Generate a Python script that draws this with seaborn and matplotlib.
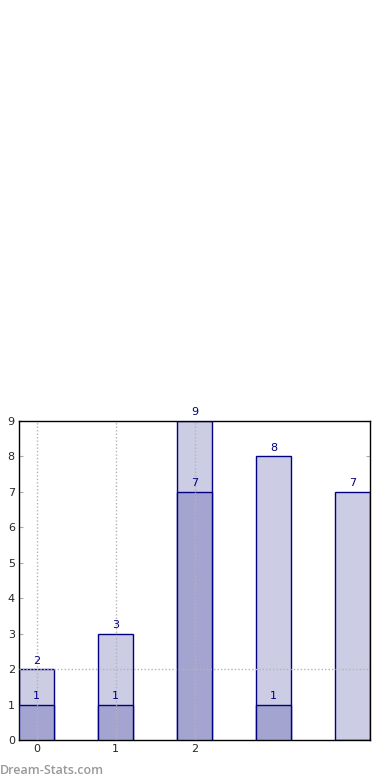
import pandas as pd
import matplotlib
matplotlib.use('Agg')
import matplotlib.pyplot as plt
import seaborn as sns

# chart data
categories = [0, 1, 2, 3, 4]
total_values = [2, 3, 9, 8, 7]
inner_values = [1, 1, 7, 1, 0]
xtick_labels = ['0', '1', '2']

light = '#ccccE4'
dark = '#a4a4d0'
edge = '#000080'

sns.set_style('white')
plt.rcParams['font.family'] = ['DejaVu Sans']

fig = plt.figure(figsize=(3.9, 7.8), dpi=100)
ax = fig.add_axes([19 / 390, 40 / 780, 351 / 390, 319 / 780])

df = pd.DataFrame({'cat': categories, 'total': total_values, 'inner': inner_values})

sns.barplot(data=df, x='cat', y='total', color=light, saturation=1, width=0.45,
            edgecolor=edge, linewidth=1, ax=ax, zorder=2)
sns.barplot(data=df[df['inner'] > 0], x='cat', y='inner', color=dark, saturation=1,
            width=0.45, edgecolor=edge, linewidth=1, ax=ax, zorder=3,
            order=categories)

# value labels
for i, v in enumerate(total_values):
    ax.text(i, v + 0.1, str(v), ha='center', va='bottom', color=edge, fontsize=8, zorder=5)
for i, v in enumerate(inner_values):
    if v > 0:
        ax.text(i, v + 0.1, str(v), ha='center', va='bottom', color=edge, fontsize=8, zorder=5)

# dotted guide lines
for x in [0, 1, 2]:
    ax.axvline(x, color='#b4b4b4', linestyle=(0, (1, 1.5)), linewidth=1, zorder=4)
ax.axhline(2, color='#b4b4b4', linestyle=(0, (1, 1.5)), linewidth=1, zorder=4)

ax.set_xlim(-0.225, 4.225)
ax.set_ylim(0, 9)
ax.set_yticks(range(10))
ax.set_xticks([0, 1, 2])
ax.set_xticklabels(xtick_labels)
ax.set_xlabel('')
ax.set_ylabel('')
ax.tick_params(axis='both', direction='in', length=3, color='#aaaaaa', labelsize=8,
               left=True, bottom=True, right=True, top=False, pad=3)
for s in ax.spines.values():
    s.set_color('black')
    s.set_linewidth(1)

fig.text(0.0, 6 / 780, 'Dream-Stats.com', color='#999999', fontsize=9,
         fontweight='semibold', family=['Open Sans', 'DejaVu Sans'],
         ha='left', va='baseline')

fig.savefig('out.png', dpi=100)
